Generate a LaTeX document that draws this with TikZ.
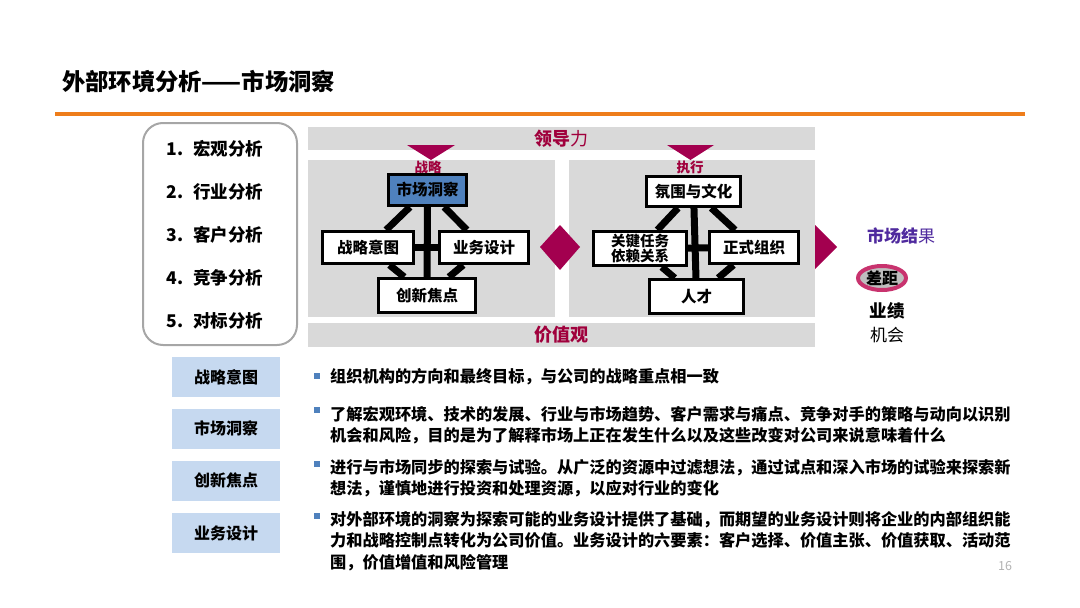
\documentclass[tikz,border=0pt]{standalone}
\usepackage{fontspec}
\setmainfont{Noto Sans CJK SC}
\usetikzlibrary{positioning,shapes.geometric}
\definecolor{hworange}{HTML}{EE7D1A}
\definecolor{panelgray}{HTML}{D9D9D9}
\definecolor{wine}{HTML}{A0003C}
\definecolor{berry}{HTML}{A3004F}
\definecolor{insightblue}{HTML}{4F81BD}
\definecolor{labelblue}{HTML}{C6D9F0}
\definecolor{resultpurple}{HTML}{4F2A9E}
\definecolor{gaprim}{HTML}{C8336E}

\begin{document}
\begin{tikzpicture}[x=1pt, y=-1pt,
  panel/.style={fill=panelgray, inner sep=0pt},
  bar/.style={fill=panelgray, minimum width=507pt, inner sep=0pt,
              text=wine, font=\fontsize{18}{20}\selectfont},
  blk/.style={draw=black, line width=3pt, fill=white, inner sep=0pt,
              minimum height=32pt, align=center,
              font=\bfseries\fontsize{15.5}{17}\selectfont},
  link/.style={line width=7pt, black},
  tag/.style={text=wine, font=\bfseries\fontsize{13.5}{15}\selectfont},
  item/.style={anchor=west, font=\bfseries\fontsize{17.5}{19}\selectfont},
  keybox/.style={fill=labelblue, minimum width=108pt, minimum height=40pt,
                 inner sep=0pt, font=\bfseries\fontsize{16}{18}\selectfont},
  bullet/.style={fill=insightblue, minimum size=6pt, inner sep=0pt},
  para/.style={anchor=north west, align=left, inner sep=0pt,
               font=\bfseries\fontsize{16.2}{21.5}\selectfont},
]
\useasboundingbox (0,0) rectangle (1080,608);

% header
\node[anchor=west, inner sep=0pt, font=\bfseries\fontsize{23.3}{25}\selectfont]
  (title) at (62,82) {外部环境分析——市场洞察};
\draw[hworange, line width=4pt] (55,114) -- (1025,114);

% analysis list
\node[draw=black!35, line width=2pt, rounded corners=20pt,
      minimum width=154pt, minimum height=222pt] (list) at (220,234) {};
\node[item] (i1) at (163,149) {1.\hspace{10pt}宏观分析};
\node[item] (i2) at (163,192) {2.\hspace{10pt}行业分析};
\node[item] (i3) at (163,235) {3.\hspace{10pt}客户分析};
\node[item] (i4) at (163,278) {4.\hspace{10pt}竞争分析};
\node[item] (i5) at (163,321) {5.\hspace{10pt}对标分析};

% frame: leadership, two panels, values
\node[bar, minimum height=23pt] (lead) at (561.5,138.5)
  {\textbf{领导}力};
\node[panel, minimum width=247pt, minimum height=157pt] (strat) at (431.5,238.5) {};
\node[panel, minimum width=246pt, minimum height=157pt] (exec) at (692,238.5) {};
\node[bar, minimum height=24pt] (values) at (561.5,335)
  {\textbf{价值观}};

\fill[berry] (407,145) -- (455,145) -- (431,160) -- cycle;
\fill[berry] (667,145) -- (714,145) -- (690.5,160) -- cycle;
\node[tag] (stag) at (428,167) {战略};
\node[tag] (etag) at (690,167) {执行};

% strategy side
\node[blk, fill=insightblue, minimum width=78pt, minimum height=31pt] (mkt) at (427.5,190) {市场洞察};
\node[blk, minimum width=91pt] (intent) at (368,247.5) {战略意图};
\node[blk, minimum width=89pt] (design) at (484,247.5) {业务设计};
\node[blk, minimum width=97pt, minimum height=34pt] (innov) at (427,295.5) {创新焦点};
\draw[link] (mkt) -- (intent);
\draw[link] (mkt) -- (design);
\draw[link] (intent) -- (innov);
\draw[link] (design) -- (innov);
\draw[link] (mkt) -- (innov);
\draw[link] (intent) -- (design);

% execution side
\node[blk, minimum width=94pt, minimum height=30pt] (culture) at (693.5,191.5) {氛围与文化};
\node[blk, minimum width=93pt, minimum height=34pt,
      font=\bfseries\fontsize{14.5}{14.5}\selectfont] (tasks) at (640,248.5) {关键任务\\依赖关系};
\node[blk, minimum width=89pt] (formal) at (754,247.5) {正式组织};
\node[blk, minimum width=94pt, minimum height=34pt] (talent) at (696.5,296.5) {人才};
\draw[link] (culture) -- (tasks);
\draw[link] (culture) -- (formal);
\draw[link] (tasks) -- (talent);
\draw[link] (formal) -- (talent);
\draw[link] (culture) -- (talent);
\draw[link] (tasks) -- (formal);

\fill[berry] (540,247) -- (560,225) -- (580,247) -- (560,270) -- cycle;
\fill[berry] (815,225) -- (837,247) -- (815,269) -- cycle;

% market results
\node[text=resultpurple, font=\fontsize{17}{19}\selectfont] (result) at (901,236)
  {\textbf{市场结}果};
\node[ellipse, draw=gaprim, line width=4pt, fill=black!25, inner sep=0pt,
      minimum width=48pt, minimum height=24pt,
      font=\bfseries\fontsize{16}{18}\selectfont] (gap) at (882,278) {差距};
\node[font=\bfseries\fontsize{17.5}{19}\selectfont] (perf) at (887,311) {业绩};
\node[font=\fontsize{17}{19}\selectfont] (chance) at (887,335) {机会};

% definitions
\node[keybox] (k1) at (226,377) {战略意图};
\node[keybox] (k2) at (226,428.5) {市场洞察};
\node[keybox] (k3) at (226,480.5) {创新焦点};
\node[keybox] (k4) at (226,533) {业务设计};

\node[bullet] (b1) at (317,376) {};
\node[bullet] (b2) at (317,410) {};
\node[bullet] (b3) at (317,464) {};
\node[bullet] (b4) at (317,516) {};

\node[para] (d1) at (330,368) {组织机构的方向和最终目标，与公司的战略重点相一致};
\node[para] (d2) at (330,406)
  {了解宏观环境、技术的发展、行业与市场趋势、客户需求与痛点、竞争对手的策略与动向以识别\\
   机会和风险，目的是为了解释市场上正在发生什么以及这些改变对公司来说意味着什么};
\node[para] (d3) at (330,459)
  {进行与市场同步的探索与试验。从广泛的资源中过滤想法，通过试点和深入市场的试验来探索新\\
   想法，谨慎地进行投资和处理资源，以应对行业的变化};
\node[para] (d4) at (330,511)
  {对外部环境的洞察为探索可能的业务设计提供了基础，而期望的业务设计则将企业的内部组织能\\
   力和战略控制点转化为公司价值。业务设计的六要素：客户选择、价值主张、价值获取、活动范\\
   围，价值增值和风险管理};

\node[text=black!30, font=\fontsize{12.5}{14}\selectfont] (page) at (1005,566) {16};
\end{tikzpicture}
\end{document}
